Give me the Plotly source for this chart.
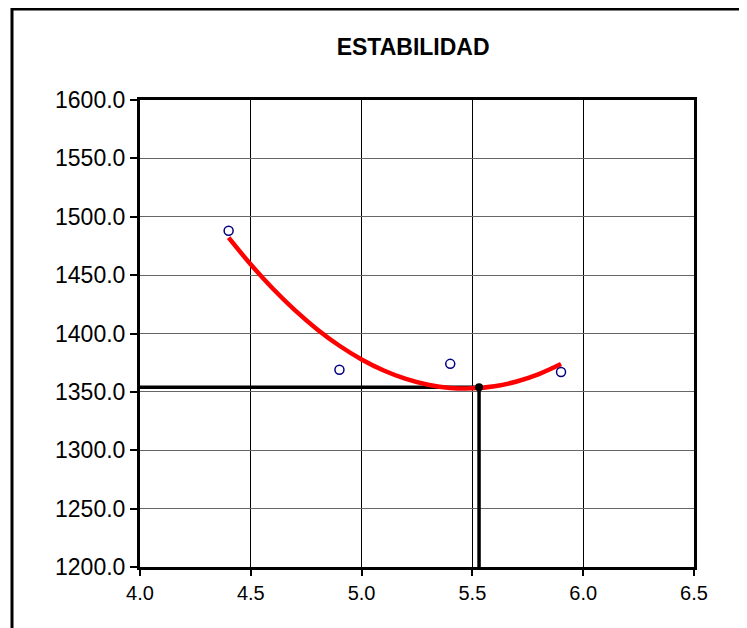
import plotly.graph_objects as go

# Data
x_points = [4.4, 4.9, 5.4, 5.9]
y_points = [1488, 1369, 1374, 1367]

curve_x = [4.4, 4.5, 4.6, 4.7, 4.8, 4.9, 5.0, 5.1, 5.2, 5.3, 5.4, 5.5, 5.6, 5.7, 5.8, 5.9]
curve_y = [1482.1, 1459.1, 1438.3, 1419.8, 1403.5, 1389.5, 1377.8, 1368.3,
           1361.1, 1356.1, 1353.4, 1353.0, 1354.8, 1358.9, 1365.2, 1373.8]

opt_x = 5.53
opt_y = 1354

x_ticks = [4.0, 4.5, 5.0, 5.5, 6.0, 6.5]
y_ticks = [1200, 1250, 1300, 1350, 1400, 1450, 1500, 1550, 1600]

FONT = "Arial, Liberation Sans, sans-serif"

L, R, T, B = 132, 61, 92, 69
PW, PH = 747 - L - R, 628 - T - B

fig = go.Figure()

fig.add_trace(go.Scatter(x=[x_ticks[0], opt_x], y=[opt_y, opt_y], mode="lines",
                         line=dict(color="black", width=3.5), showlegend=False, hoverinfo="skip"))
fig.add_trace(go.Scatter(x=[opt_x, opt_x], y=[opt_y, y_ticks[0]], mode="lines",
                         line=dict(color="black", width=3.5), showlegend=False, hoverinfo="skip"))
fig.add_trace(go.Scatter(x=curve_x, y=curve_y, mode="lines", line_shape="spline",
                         line=dict(color="#FF0000", width=4.5), showlegend=False))
fig.add_trace(go.Scatter(x=[opt_x], y=[opt_y], mode="markers",
                         marker=dict(color="black", size=8), showlegend=False))
fig.add_trace(go.Scatter(x=x_points, y=y_points, mode="markers",
                         marker=dict(symbol="circle-open", color="#000080", size=9,
                                     line=dict(width=1.5, color="#000080")),
                         showlegend=False))

fig.update_layout(
    width=747, height=628,
    margin=dict(l=L, r=R, t=T, b=B),
    paper_bgcolor="white", plot_bgcolor="white",
    font=dict(family=FONT, color="black"),
    title=dict(text="<b>ESTABILIDAD</b>", x=0.493, xref="paper", xanchor="center",
               y=1 - 39 / 628, yref="container", yanchor="middle",
               font=dict(size=23, family=FONT, color="black")),
    xaxis=dict(range=[4.0, 6.5], tickvals=x_ticks, ticktext=[f"{v:.1f}" for v in x_ticks],
               showgrid=True, gridcolor="black", gridwidth=1,
               showline=True, linecolor="black", linewidth=3, mirror=True,
               ticks="outside", ticklen=6, tickwidth=2, tickcolor="black",
               tickfont=dict(size=20, family=FONT), zeroline=False),
    yaxis=dict(range=[1200, 1600], tickvals=y_ticks, ticktext=[f"{v:.1f}" for v in y_ticks],
               showgrid=True, gridcolor="#666666", gridwidth=1,
               showline=True, linecolor="black", linewidth=3, mirror=True,
               ticks="outside", ticklen=7, tickwidth=2, tickcolor="black",
               tickfont=dict(size=23, family=FONT), zeroline=False),
    shapes=[dict(type="rect", xref="paper", yref="paper",
                 x0=(4 - L) / PW, x1=1.3, y0=-0.3, y1=1 + (T - 1) / PH,
                 line=dict(color="black", width=3), fillcolor="rgba(0,0,0,0)", layer="below")],
)

fig.write_html("out.html")
